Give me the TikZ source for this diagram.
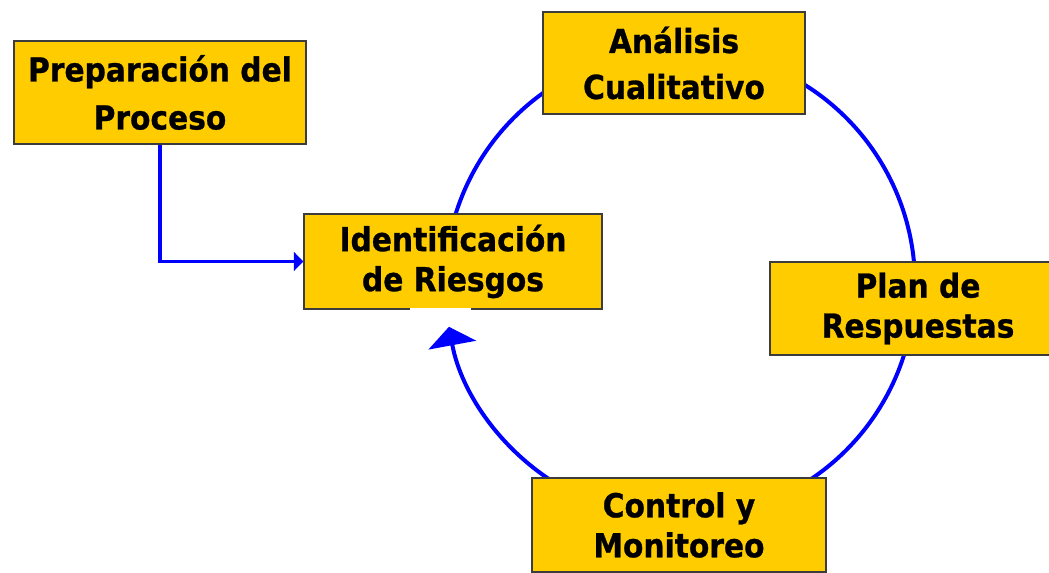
\documentclass[tikz,border=0pt]{standalone}
\usepackage{fontspec}
\setmainfont{DejaVu Sans}[FakeStretch=0.9, BoldFeatures={FakeBold=0.8}]
\usetikzlibrary{arrows.meta}
\definecolor{boxfill}{HTML}{FFCC00}
\definecolor{boxline}{HTML}{3C3C3C}
\definecolor{cycblue}{HTML}{0000FF}
\begin{document}
\begin{tikzpicture}[x=0.75pt,y=0.75pt,
  stepbox/.style={draw=boxline, line width=1.1pt, fill=boxfill, inner sep=0pt, align=center},
  txt/.style={font=\bfseries\fontsize{24.75}{#1}\selectfont},
  cyc/.style={draw=cycblue, line width=3pt},
  feed/.style={draw=cycblue, line width=2.4pt, -{Triangle[length=7pt,width=14pt]}}]
\useasboundingbox (0,0) rectangle (1049,573);
\coordinate (cc) at (680,289);
% cycle arcs (drawn beneath the boxes)
\draw[cyc] ([shift={(165:235)}]cc) arc[start angle=165,end angle=115,radius=235];
\draw[cyc] ([shift={(65:235)}]cc) arc[start angle=65,end angle=0,radius=235];
\draw[cyc] ([shift={(-12:235)}]cc) arc[start angle=-12,end angle=-62,radius=235];
\draw[cyc, -{Triangle[length=14pt,width=36pt]}] ([shift={(240:235)}]cc) arc[start angle=240,end angle=190.5,radius=235];
% boxes
\node[stepbox, txt=36pt, minimum width=219pt, minimum height=77.25pt] (prep) at (160,480.5) {Preparación del\\Proceso};
\node[stepbox, txt=30pt, minimum width=223.5pt, minimum height=71.25pt] (ident) at (453,311.5) {Identificación\\de Riesgos};
\node[stepbox, txt=34.5pt, minimum width=196.5pt, minimum height=76.5pt] (anal) at (674,510) {Análisis\\Cualitativo};
\node[stepbox, txt=30pt, minimum width=222pt, minimum height=69.75pt] (plan) at (918,264.5) {Plan de\\Respuestas};
\node[stepbox, txt=30pt, minimum width=220.5pt, minimum height=70.5pt] (ctrl) at (679,48) {Control y\\Monitoreo};
\draw[white, line width=1.5pt] (410,264) -- (471,264);
% feed-in connector
\draw[feed] (prep.south) |- (ident.west);
\end{tikzpicture}
\end{document}
